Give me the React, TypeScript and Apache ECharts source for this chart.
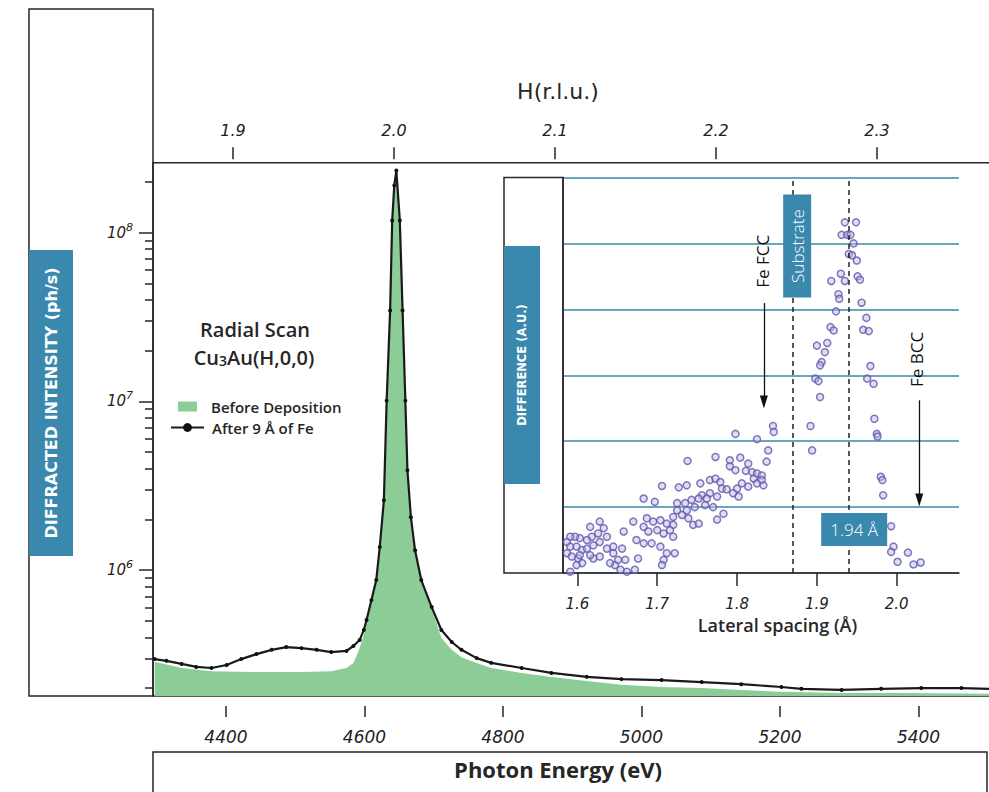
import React, { useEffect, useRef } from 'react';
import * as echarts from 'echarts';

// ---- tick values ----
const energyTicks = [4400, 4600, 4800, 5000, 5200, 5400];
const hTicks = [1.9, 2.0, 2.1, 2.2, 2.3];
const intensityMajorTicks = [1e6, 1e7, 1e8];
const intensityMinorTicks = [
  2e5, 3e5, 4e5, 5e5, 6e5, 7e5, 8e5, 9e5,
  2e6, 3e6, 4e6, 5e6, 6e6, 7e6, 8e6, 9e6,
  2e7, 3e7, 4e7, 5e7, 6e7, 7e7, 8e7, 9e7,
  2e8,
];
const spacingTicks = [1.6, 1.7, 1.8, 1.9, 2.0];

// ---- main scan: after 9 Å of Fe ----
const afterEnergy = [
  4297, 4314, 4336, 4357, 4379, 4401, 4422, 4444, 4466, 4487,
  4509, 4531, 4552, 4574, 4584, 4593, 4599, 4603, 4610, 4617,
  4622, 4628, 4632, 4637, 4640, 4643, 4646, 4651, 4655, 4659,
  4662, 4667, 4673, 4682, 4697, 4711, 4726, 4740, 4762, 4783,
  4827, 4870, 4921, 4971, 5029, 5087, 5144, 5202, 5231, 5289,
  5346, 5404, 5462, 5502,
];
const afterIntensity = [
  2.97e5, 2.9e5, 2.78e5, 2.67e5, 2.63e5, 2.74e5, 2.97e5, 3.18e5, 3.37e5, 3.5e5,
  3.45e5, 3.37e5, 3.27e5, 3.32e5, 3.55e5, 3.85e5, 4.42e5, 5.06e5, 6.64e5, 8.73e5,
  1.37e6, 2.59e6, 1.01e7, 3.45e7, 1.18e8, 1.9e8, 2.33e8, 1.18e8, 3.45e7, 1.01e7,
  3.91e6, 2.06e6, 1.31e6, 8.73e5, 6.04e5, 4.42e5, 3.75e5, 3.37e5, 3.01e5, 2.82e5,
  2.63e5, 2.46e5, 2.33e5, 2.26e5, 2.23e5, 2.17e5, 2.11e5, 2.03e5, 1.98e5, 1.95e5,
  1.98e5, 2.0e5, 2.0e5, 1.98e5,
];

// ---- main scan: before deposition ----
const beforeEnergy = [
  4297, 4336, 4379, 4437, 4509, 4552, 4574, 4584, 4591, 4599,
  4603, 4610, 4617, 4622, 4628, 4632, 4637, 4640, 4643, 4646,
  4651, 4655, 4659, 4662, 4667, 4673, 4682, 4697, 4711, 4726,
  4740, 4762, 4783, 4827, 4870, 4921, 4971, 5029, 5087, 5144,
  5202, 5289, 5375, 5502,
];
const beforeIntensity = [
  2.86e5, 2.63e5, 2.52e5, 2.49e5, 2.49e5, 2.52e5, 2.63e5, 2.82e5, 3.27e5, 4.12e5,
  4.92e5, 6.3e5, 8.5e5, 1.35e6, 2.55e6, 1.0e7, 3.4e7, 1.15e8, 1.85e8, 2.25e8,
  1.15e8, 3.4e7, 1.0e7, 3.85e6, 2.0e6, 1.28e6, 8.5e5, 5.9e5, 3.96e5, 3.37e5,
  3.05e5, 2.82e5, 2.63e5, 2.46e5, 2.33e5, 2.2e5, 2.09e5, 2.03e5, 2.0e5, 1.95e5,
  1.9e5, 1.87e5, 1.87e5, 1.85e5,
];

// ---- inset: difference vs lateral spacing ----
const spacing = [
  1.935, 1.949, 1.931, 1.938, 1.942, 1.946, 1.94, 1.944, 1.95, 1.93,
  1.918, 1.935, 1.951, 1.954, 1.927, 1.928, 1.956, 1.924, 1.962, 1.917,
  1.921, 1.958, 1.965, 1.9, 1.913, 1.91, 1.906, 1.904, 1.967, 1.898,
  1.902, 1.963, 1.971, 1.904, 1.972, 1.975, 1.976, 1.892, 1.894, 1.98,
  1.982, 1.983, 1.993, 1.996, 1.993, 2.001, 2.014, 2.021, 2.03, 1.845,
  1.846, 1.798, 1.825, 1.839, 1.837, 1.738, 1.773, 1.791, 1.804, 1.814,
  1.791, 1.798, 1.811, 1.819, 1.825, 1.831, 1.821, 1.825, 1.831, 1.833,
  1.814, 1.806, 1.8, 1.795, 1.802, 1.706, 1.727, 1.737, 1.754, 1.766,
  1.773, 1.779, 1.781, 1.787, 1.775, 1.766, 1.756, 1.683, 1.697, 1.725,
  1.735, 1.743, 1.752, 1.762, 1.747, 1.76, 1.77, 1.737, 1.725, 1.72,
  1.731, 1.739, 1.783, 1.775, 1.745, 1.752, 1.687, 1.695, 1.704, 1.712,
  1.72, 1.67, 1.683, 1.689, 1.7, 1.708, 1.716, 1.72, 1.658, 1.674,
  1.683, 1.693, 1.704, 1.712, 1.722, 1.708, 1.706, 1.676, 1.672, 1.662,
  1.654, 1.647, 1.641, 1.651, 1.66, 1.645, 1.637, 1.628, 1.62, 1.616,
  1.616, 1.628, 1.633, 1.626, 1.618, 1.612, 1.603, 1.597, 1.591, 1.587,
  1.591, 1.599, 1.606, 1.612, 1.62, 1.628, 1.637, 1.645, 1.656, 1.587,
  1.593, 1.601, 1.606, 1.599, 1.591, 1.603,
];
const difference = [
  5.32, 5.32, 5.13, 5.13, 5.13, 5.0, 4.84, 4.82, 4.74, 4.54,
  4.43, 4.43, 4.5, 4.45, 4.23, 4.16, 4.1, 3.97, 3.87, 3.73,
  3.68, 3.69, 3.67, 3.45, 3.49, 3.35, 3.2, 3.15, 3.14, 2.95,
  2.91, 2.95, 2.87, 2.67, 2.34, 2.11, 2.07, 2.23, 1.86, 1.46,
  1.41, 1.18, 0.71, 0.4, 0.32, 0.17, 0.31, 0.13, 0.16, 2.23,
  2.14, 2.11, 2.03, 1.86, 1.69, 1.7, 1.76, 1.71, 1.75, 1.66,
  1.62, 1.56, 1.55, 1.53, 1.51, 1.48, 1.43, 1.36, 1.41, 1.33,
  1.31, 1.36, 1.28, 1.21, 1.16, 1.32, 1.3, 1.33, 1.36, 1.41,
  1.43, 1.38, 1.28, 1.27, 1.16, 1.21, 1.18, 1.13, 1.08, 1.06,
  1.06, 1.11, 1.13, 1.13, 1.0, 1.03, 1.0, 0.95, 0.95, 0.85,
  0.88, 0.83, 0.9, 0.81, 0.73, 0.75, 0.83, 0.78, 0.8, 0.75,
  0.73, 0.78, 0.7, 0.63, 0.65, 0.6, 0.65, 0.55, 0.63, 0.5,
  0.45, 0.45, 0.4, 0.3, 0.3, 0.2, 0.12, 0.22, 0.05, 0.02,
  0.05, 0.12, 0.15, 0.2, 0.2, 0.3, 0.37, 0.25, 0.22, 0.27,
  0.7, 0.78, 0.68, 0.6, 0.55, 0.5, 0.53, 0.55, 0.55, 0.47,
  0.4, 0.4, 0.35, 0.37, 0.42, 0.47, 0.55, 0.4, 0.37, 0.3,
  0.25, 0.22, 0.15, 0.12, 0.02, 0.27,
];

// reference positions in the inset (data units)
const substrateSpacing = 1.874;
const peakSpacing = 1.94;

const TEAL = '#3a88ad';
const INK = '#262626';
const GREEN = '#8ccd97';
const LABEL_FONT = 'Open Sans';

const tickText = {
  fontFamily: 'DejaVu Sans',
  fontStyle: 'italic' as const,
  color: '#222',
};
const tickLine = { color: INK, width: 1.5 };

function buildOption(): any {
  const afterData = afterEnergy.map((e, i) => [e, afterIntensity[i]]);
  const beforeData = beforeEnergy.map((e, i) => [e, beforeIntensity[i]]);
  const diffData = spacing.map((s, i) => [s, difference[i]]);

  return {
    animation: false,
    backgroundColor: '#ffffff',
    grid: [
      { left: 153, top: 162.7, width: 836, height: 533.3 },
      { left: 563, top: 177.5, width: 396, height: 395.5 },
    ],
    legend: [
      {
        data: [{ name: 'Before Deposition', icon: 'rect' }],
        left: 173,
        top: 394,
        itemWidth: 19,
        itemHeight: 10,
        selectedMode: false,
        textStyle: { fontFamily: LABEL_FONT, fontWeight: 600, fontSize: 15, lineHeight: 15, color: INK, padding: [0, 0, 0, 9] },
      },
      {
        data: ['After 9 Å of Fe'],
        left: 165,
        top: 415,
        itemWidth: 33,
        itemHeight: 11,
        selectedMode: false,
        textStyle: { fontFamily: LABEL_FONT, fontWeight: 600, fontSize: 15, lineHeight: 15, color: INK, padding: [0, 0, 0, 3] },
      },
    ],
    xAxis: [
      {
        gridIndex: 0,
        type: 'value',
        min: 4294.6,
        max: 5501.8,
        position: 'bottom',
        offset: 10,
        axisLine: { show: false },
        axisTick: { show: true, customValues: energyTicks, length: 11, lineStyle: tickLine },
        axisLabel: { customValues: energyTicks, margin: 22, fontSize: 17, ...tickText, formatter: (v: number) => String(v) },
        splitLine: { show: false },
        name: 'Photon Energy (eV)',
        nameLocation: 'middle',
        nameGap: 52,
        nameTextStyle: { fontFamily: LABEL_FONT, fontWeight: 'bold', fontSize: 22, color: INK, padding: [0, 26, 0, 0] },
      },
      {
        gridIndex: 0,
        type: 'value',
        min: 1.8503,
        max: 2.3696,
        position: 'top',
        offset: 3.5,
        axisLine: { show: false },
        axisTick: { show: true, customValues: hTicks, length: 12, lineStyle: tickLine },
        axisLabel: { customValues: hTicks, margin: 21, fontSize: 16, ...tickText, formatter: (v: number) => v.toFixed(1) },
        splitLine: { show: false },
        name: 'H(r.l.u.)',
        nameLocation: 'middle',
        nameGap: 57,
        nameTextStyle: { fontFamily: 'DejaVu Sans', fontSize: 22, color: INK, padding: [0, 26, 0, 0] },
      },
      {
        gridIndex: 1,
        type: 'value',
        min: 1.582,
        max: 2.078,
        position: 'bottom',
        axisLine: { show: true, lineStyle: tickLine },
        axisTick: { show: true, customValues: spacingTicks, length: 13, lineStyle: tickLine },
        axisLabel: { customValues: spacingTicks, margin: 23, fontSize: 15, ...tickText, formatter: (v: number) => v.toFixed(1) },
        splitLine: { show: false },
        name: 'Lateral spacing (Å)',
        nameLocation: 'middle',
        nameGap: 43,
        nameTextStyle: { fontFamily: LABEL_FONT, fontWeight: 600, fontSize: 18, color: INK, padding: [0, 0, 0, 33] },
      },
    ],
    yAxis: [
      {
        gridIndex: 0,
        type: 'log',
        logBase: 10,
        min: 179500,
        max: 2.594e8,
        position: 'left',
        axisLine: { show: true, lineStyle: tickLine },
        axisTick: { show: true, customValues: intensityMajorTicks, length: 14, lineStyle: tickLine },
        axisLabel: {
          customValues: intensityMajorTicks,
          margin: 20,
          formatter: (v: number) => `{b|10}{s|${Math.round(Math.log10(v))}}`,
          rich: {
            b: { fontSize: 15, lineHeight: 22, ...tickText },
            s: { fontSize: 11, lineHeight: 14, verticalAlign: 'top', ...tickText },
          },
        },
        splitLine: { show: false },
      },
      {
        gridIndex: 0,
        type: 'log',
        logBase: 10,
        min: 179500,
        max: 2.594e8,
        position: 'left',
        axisLine: { show: false },
        axisTick: { show: true, customValues: intensityMinorTicks, length: 8, lineStyle: tickLine },
        axisLabel: { show: false },
        splitLine: { show: false },
      },
      {
        gridIndex: 1,
        type: 'value',
        min: 0,
        max: 6,
        interval: 1,
        axisLine: { show: true, lineStyle: tickLine },
        axisTick: { show: false },
        axisLabel: { show: false },
        splitLine: { show: true, lineStyle: { color: TEAL, width: 1.5 } },
      },
    ],
    series: [
      {
        name: 'Before Deposition',
        type: 'line',
        xAxisIndex: 0,
        yAxisIndex: 0,
        data: beforeData,
        symbol: 'none',
        showSymbol: false,
        lineStyle: { width: 0, color: GREEN },
        itemStyle: { color: GREEN },
        areaStyle: { color: GREEN, opacity: 1, origin: 'start' },
        z: 2,
      },
      {
        name: 'After 9 Å of Fe',
        type: 'line',
        xAxisIndex: 0,
        yAxisIndex: 0,
        data: afterData,
        symbol: 'circle',
        symbolSize: 4,
        showSymbol: true,
        itemStyle: { color: '#111' },
        lineStyle: { color: '#1a1a1a', width: 2.2 },
        z: 3,
      },
      {
        name: 'Difference',
        type: 'scatter',
        xAxisIndex: 2,
        yAxisIndex: 2,
        data: diffData,
        symbol: 'circle',
        symbolSize: 7,
        itemStyle: { color: 'rgba(190,184,232,0.6)', borderColor: '#5f58aa', borderWidth: 1.5 },
        z: 3,
        markLine: {
          silent: true,
          symbol: ['none', 'none'],
          label: { show: false },
          lineStyle: { color: '#222', width: 1.5, type: [5, 4] },
          data: [
            { xAxis: substrateSpacing },
            { xAxis: peakSpacing },
            [
              { coord: [1.8336, 4.095], lineStyle: { type: 'solid', width: 1.3, color: '#111' } },
              { coord: [1.8336, 2.595], symbol: 'triangle', symbolSize: [8, 13] },
            ],
            [
              { coord: [2.0282, 2.62], lineStyle: { type: 'solid', width: 1.3, color: '#111' } },
              { coord: [2.0282, 1.106], symbol: 'triangle', symbolSize: [8, 13] },
            ],
          ],
        },
        markPoint: {
          silent: true,
          z: 8,
          data: [
            {
              coord: [1.8753, 4.96],
              symbol: 'rect',
              symbolSize: [28, 103],
              itemStyle: { color: TEAL },
              label: { show: true, position: 'inside', rotate: 90, formatter: 'Substrate', color: '#fff', fontFamily: LABEL_FONT, fontWeight: 300, fontSize: 17 },
            },
            {
              coord: [1.8315, 4.73],
              symbol: 'rect',
              symbolSize: [2, 2],
              itemStyle: { color: 'rgba(0,0,0,0)' },
              label: { show: true, position: 'inside', rotate: 90, formatter: 'Fe FCC', color: '#111', fontFamily: LABEL_FONT, fontSize: 17 },
            },
            {
              coord: [2.0253, 3.24],
              symbol: 'rect',
              symbolSize: [2, 2],
              itemStyle: { color: 'rgba(0,0,0,0)' },
              label: { show: true, position: 'inside', rotate: 90, formatter: 'Fe BCC', color: '#111', fontFamily: LABEL_FONT, fontSize: 17 },
            },
            {
              coord: [1.9467, 0.66],
              symbol: 'rect',
              symbolSize: [66, 33],
              itemStyle: { color: TEAL },
              label: { show: true, position: 'inside', formatter: '1.94 Å', color: '#fff', fontFamily: LABEL_FONT, fontWeight: 300, fontSize: 17 },
            },
          ],
        },
      },
    ],
    graphic: [
      { type: 'rect', shape: { x: 29, y: 9, width: 124, height: 687 }, style: { fill: 'none', stroke: INK, lineWidth: 1.5 } },
      { type: 'rect', shape: { x: 29, y: 250, width: 44, height: 306 }, style: { fill: TEAL } },
      {
        type: 'text', x: 51, y: 403, rotation: Math.PI / 2,
        style: { text: 'DIFFRACTED INTENSITY (ph/s)', fill: '#fff', fontFamily: 'DejaVu Sans', fontWeight: 'bold', fontSize: 16, align: 'center', verticalAlign: 'middle' },
      },
      { type: 'line', shape: { x1: 153, y1: 162.7, x2: 989, y2: 162.7 }, style: { stroke: INK, lineWidth: 1.5 } },
      { type: 'line', shape: { x1: 153, y1: 696, x2: 989, y2: 696 }, style: { stroke: INK, lineWidth: 1.5 } },
      { type: 'rect', shape: { x: 153, y: 752, width: 834, height: 60 }, style: { fill: 'none', stroke: INK, lineWidth: 1.5 } },
      { type: 'rect', shape: { x: 504, y: 177.5, width: 59, height: 395.5 }, style: { fill: 'none', stroke: INK, lineWidth: 1.5 } },
      { type: 'rect', shape: { x: 504, y: 246, width: 36, height: 238 }, style: { fill: TEAL } },
      {
        type: 'text', x: 522, y: 365, rotation: Math.PI / 2,
        style: { text: 'DIFFERENCE (A.U.)', fill: '#fff', fontFamily: 'DejaVu Sans', fontWeight: 'bold', fontSize: 11.5, align: 'center', verticalAlign: 'middle' },
      },
      {
        type: 'text', x: 255, y: 329,
        style: { text: 'Radial Scan', fill: INK, fontFamily: LABEL_FONT, fontWeight: 600, fontSize: 20, lineHeight: 20, align: 'center', verticalAlign: 'middle' },
      },
      {
        type: 'text', x: 254, y: 357,
        style: {
          text: '{a|Cu}{s|3}{a|Au(H,0,0)}',
          align: 'center',
          verticalAlign: 'middle',
          rich: {
            a: { fill: INK, fontFamily: LABEL_FONT, fontWeight: 600, fontSize: 20, lineHeight: 20, verticalAlign: 'middle' },
            s: { fill: INK, fontFamily: LABEL_FONT, fontWeight: 600, fontSize: 14, lineHeight: 9, verticalAlign: 'bottom' },
          },
        },
      },
    ],
  };
}

export default function App() {
  const ref = useRef<HTMLDivElement>(null);
  useEffect(() => {
    if (!ref.current) return;
    const chart = echarts.init(ref.current, null, { renderer: 'svg' });
    chart.setOption(buildOption());
    return () => chart.dispose();
  }, []);
  return (
    <div
      ref={ref}
      style={{ position: 'fixed', left: 0, top: 0, width: 989, height: 792, background: '#fff' }}
    />
  );
}
